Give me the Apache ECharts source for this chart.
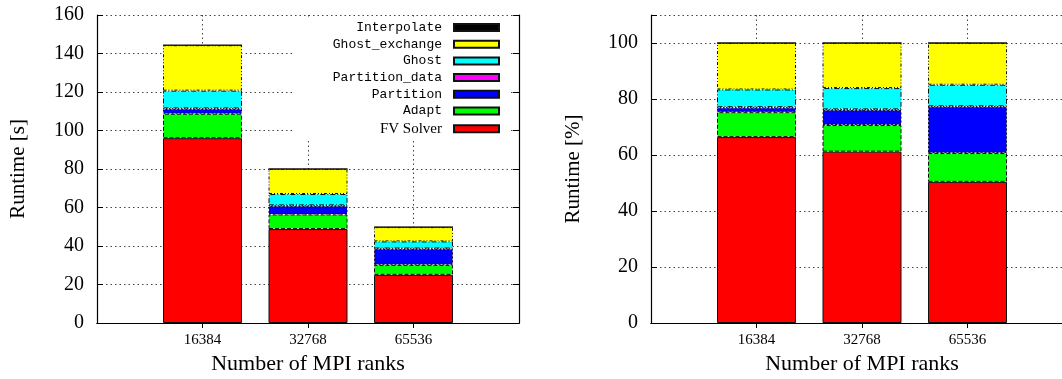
<!DOCTYPE html>
<html>
<head>
<meta charset="utf-8">
<script src="https://cdn.jsdelivr.net/npm/echarts@6/dist/echarts.min.js"></script>
<style>
html,body{margin:0;padding:0;background:#fff;}
#chart{width:1062px;height:379px;}
</style>
</head>
<body>
<div id="chart"></div>
<script>
// ---- data ----
const categories = ['16384', '32768', '65536'];
// Left panel: runtime in seconds
const fvSolverSec      = [96.0, 48.8, 25.0];
const adaptSec         = [12.7, 7.6, 5.2];
const partitionSec     = [2.5, 4.4, 8.2];
const partitionDataSec = [0.3, 0.3, 0.3];
const ghostSec         = [9.2, 5.9, 3.7];
const ghostExchangeSec = [23.6, 13.0, 7.4];
const interpolateSec   = [0.0, 0.0, 0.0];
// Right panel: runtime in percent
const fvSolverPct      = [66.4, 61.2, 50.4];
const adaptPct         = [8.9, 9.5, 10.3];
const partitionPct     = [1.6, 5.4, 16.5];
const partitionDataPct = [0.2, 0.2, 0.2];
const ghostPct         = [6.3, 7.6, 7.7];
const ghostExchangePct = [16.6, 16.1, 14.9];
const interpolatePct   = [0.0, 0.0, 0.0];
// Tick labels
const yTicksSec = [0, 20, 40, 60, 80, 100, 120, 140, 160];
const yTicksPct = [0, 20, 40, 60, 80, 100];

// ---- styles ----
const SERIF = 'Liberation Serif';
const MONO = 'Liberation Mono';
const seriesDefs = [
  {name: 'FV Solver',      color: '#ff0000', dash: 'solid',          s: fvSolverSec,      p: fvSolverPct},
  {name: 'Adapt',          color: '#00ff00', dash: [4, 2],           s: adaptSec,         p: adaptPct},
  {name: 'Partition',      color: '#0000ff', dash: [2, 2],           s: partitionSec,     p: partitionPct},
  {name: 'Partition_data', color: '#ff00ff', dash: [1, 2],           s: partitionDataSec, p: partitionDataPct},
  {name: 'Ghost',          color: '#00ffff', dash: [5, 2, 1, 2],     s: ghostSec,         p: ghostPct},
  {name: 'Ghost_exchange', color: '#ffff00', dash: [3, 2, 1, 2, 1, 2], s: ghostExchangeSec, p: ghostExchangePct},
  {name: 'Interpolate',    color: '#000000', dash: 'solid',          s: interpolateSec,   p: interpolatePct}
];

const axisCats = [''].concat(categories).concat([' ']);
const pad = arr => ['-'].concat(arr).concat(['-']);
const isRealCat = (i) => i >= 1 && i <= categories.length;

const gridLine = {show: true, lineStyle: {color: '#444', width: 1, type: [1.5, 3]}};
const blackLine = {show: true, lineStyle: {color: '#000', width: 1.2}};

function xAxesFor(gi) {
  return [
    {
      type: 'category', gridIndex: gi, data: axisCats, boundaryGap: false, position: 'bottom',
      axisLine: blackLine, axisTick: {show: false},
      axisLabel: {show: true, interval: 0, fontFamily: SERIF, fontSize: 15, color: '#000', margin: 10,
        formatter: v => v.trim()},
      splitLine: {show: true, interval: (i) => isRealCat(i), lineStyle: gridLine.lineStyle},
      name: 'Number of MPI ranks', nameLocation: 'middle', nameGap: 30,
      nameTextStyle: {fontFamily: SERIF, fontSize: 22, color: '#000'}
    },
    {
      type: 'category', gridIndex: gi, data: axisCats, boundaryGap: false, position: 'top',
      axisLine: blackLine,
      axisTick: {show: true, inside: true, length: 5, interval: (i) => isRealCat(i), lineStyle: {color: '#000'}},
      axisLabel: {show: false}, splitLine: {show: false}
    }
  ];
}
function yAxesFor(gi, max, ticks, title, nameGap) {
  const tickSet = new Set(ticks);
  return [
    {
      type: 'value', gridIndex: gi, min: 0, max: max, interval: 20, position: 'left',
      axisLine: blackLine,
      axisTick: {show: true, inside: true, length: 6, lineStyle: {color: '#000'}},
      axisLabel: {fontFamily: SERIF, fontSize: 20, color: '#000', margin: 13,
        formatter: v => tickSet.has(v) ? String(v) : ''},
      splitLine: gridLine,
      name: title, nameLocation: 'middle', nameGap: nameGap, nameRotate: 90,
      nameTextStyle: {fontFamily: SERIF, fontSize: 21, color: '#000'}
    },
    {
      type: 'value', gridIndex: gi, min: 0, max: max, interval: 20, position: 'right',
      axisLine: blackLine,
      axisTick: {show: true, inside: true, length: 6, lineStyle: {color: '#000'}},
      axisLabel: {show: false}, splitLine: {show: false}
    }
  ];
}

const series = [];
seriesDefs.forEach(d => {
  [['s', 0, 0], ['p', 1, 2]].forEach(([key, xi, yi]) => {
    series.push({
      type: 'bar', name: d.name, stack: 'total' + key,
      xAxisIndex: xi * 2, yAxisIndex: yi,
      data: pad(d[key]), barWidth: 79,
      itemStyle: {color: d.color, borderColor: '#111', borderWidth: 1, borderType: d.dash},
      emphasis: {disabled: true}, animation: false
    });
  });
});

const legendOrder = ['Interpolate', 'Ghost_exchange', 'Ghost', 'Partition_data', 'Partition', 'Adapt', 'FV Solver'];

const option = {
  backgroundColor: '#fff',
  animation: false,
  grid: [
    {left: 97, top: 15, width: 422, height: 308, show: false, outerBoundsMode: 'none', containLabel: false},
    {left: 651, top: 15, width: 422, height: 308, show: false, outerBoundsMode: 'none', containLabel: false}
  ],
  xAxis: xAxesFor(0).concat(xAxesFor(1)),
  yAxis: yAxesFor(0, 160, yTicksSec, 'Runtime [s]', 68).concat(yAxesFor(1, 110, yTicksPct, 'Runtime [%]', 67)),
  legend: {
    orient: 'vertical', align: 'right', right: 554, top: 17,
    itemWidth: 45, itemHeight: 7, itemGap: 3.7,
    padding: [4, 8, 4, 40], backgroundColor: '#fff',
    icon: 'rect', selectedMode: false,
    textStyle: {fontFamily: MONO, fontSize: 13, color: '#000', padding: [0, 7, 0, 0]},
    data: legendOrder.map(n => n === 'FV Solver'
      ? {name: n, textStyle: {fontFamily: SERIF, fontSize: 15, color: '#000'}}
      : {name: n})
  },
  series: series
};

const chart = echarts.init(document.getElementById('chart'), null, {renderer: 'canvas'});
chart.setOption(option);
</script>
</body>
</html>
